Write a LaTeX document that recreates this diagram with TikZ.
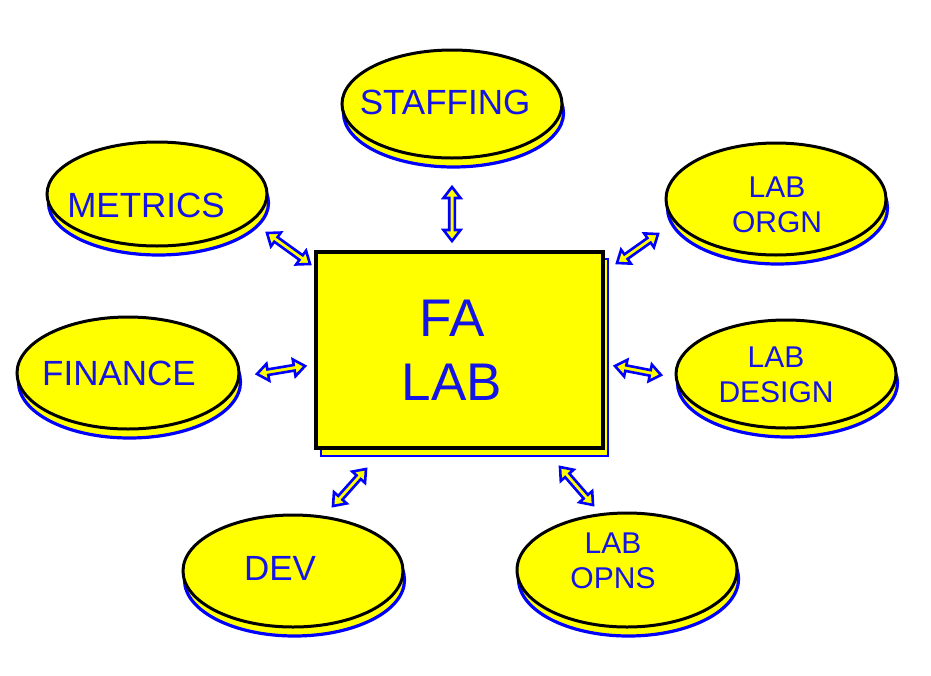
\documentclass[tikz,border=0pt]{standalone}
\usepackage{fontspec}
\setmainfont{Liberation Sans}
\usetikzlibrary{shapes.geometric,calc}
\definecolor{txtblue}{RGB}{20,20,230}
\definecolor{discyellow}{RGB}{255,255,0}
\tikzset{
  disc/.style={ellipse, fill=discyellow, draw=black, line width=3pt, inner sep=0pt},
  discshadow/.style={fill=discyellow, draw=blue, line width=3.2pt},
  lbl/.style={text=txtblue, align=center, inner sep=0pt},
  barrow/.style={fill=discyellow, draw=blue, line width=2.6pt, line join=miter},
}
\newcommand{\diskat}[5]{% name, x, y, rx, ry
  \draw[discshadow] (#2+1.5,#3+9) ellipse [x radius=#4pt, y radius=#5pt];
  \node[disc, minimum width=2*#4pt, minimum height=2*#5pt] (#1) at (#2,#3) {};
}
\newcommand{\blockarrow}[2]{%
  \path ($(#1)!11pt!(#2)$) coordinate (h1) ($(#2)!11pt!(#1)$) coordinate (h2);
  \draw[barrow] (#1) -- ($(h1)!8.5pt!90:(#2)$) -- ($(h1)!2.8pt!90:(#2)$)
    -- ($(h2)!2.8pt!-90:(#1)$) -- ($(h2)!8.5pt!-90:(#1)$) -- (#2)
    -- ($(h2)!8.5pt!90:(#1)$) -- ($(h2)!2.8pt!90:(#1)$)
    -- ($(h1)!2.8pt!-90:(#2)$) -- ($(h1)!8.5pt!-90:(#2)$) -- cycle;
}
\begin{document}
\begin{tikzpicture}[x=1pt,y=-1pt]
\useasboundingbox (0,0) rectangle (931,675);
% central box
\draw[fill=discyellow, draw=blue, line width=2.5pt] (321,259) rectangle (608,456);
\node[draw=black, fill=discyellow, line width=3.2pt, minimum width=287pt, minimum height=196pt, inner sep=0pt] (lab) at (459.5,350) {};
\node[lbl, font=\fontsize{53}{64}\selectfont] (labt) at (452,350) {FA\\LAB};
% discs
\diskat{staff}{452}{104}{110}{54}
\diskat{metrics}{157}{194}{110}{52}
\diskat{orgn}{776}{199}{110}{56}
\diskat{design}{786}{374}{110}{54}
\diskat{finance}{128}{373}{111}{56}
\diskat{dev}{293}{571}{110}{56}
\diskat{opns}{627}{570}{110}{57}
% labels
\node[lbl, font=\fontsize{35}{40}\selectfont] (stafft) at (445,102) {STAFFING};
\node[lbl, font=\fontsize{35}{40}\selectfont] (metricst) at (146,205) {METRICS};
\node[lbl, font=\fontsize{35}{40}\selectfont] (financet) at (119,373) {FINANCE};
\node[lbl, font=\fontsize{35}{40}\selectfont] (devt) at (280,568) {DEV};
\node[lbl, font=\fontsize{30}{35}\selectfont] (orgnt) at (777,205) {LAB\\ORGN};
\node[lbl, font=\fontsize{30}{35}\selectfont] (designt) at (776,375) {LAB\\DESIGN};
\node[lbl, font=\fontsize{30}{35}\selectfont] (opnst) at (613,561) {LAB\\OPNS};
% arrow end points
\coordinate (sa1) at (452,187); \coordinate (sa2) at (452,241);
\coordinate (ma1) at (267,233); \coordinate (ma2) at (310,264);
\coordinate (fa1) at (257,374); \coordinate (fa2) at (305,366);
\coordinate (oa1) at (617,263); \coordinate (oa2) at (658,234);
\coordinate (da1) at (615,366); \coordinate (da2) at (661,375);
\coordinate (va1) at (366,469); \coordinate (va2) at (333,506);
\coordinate (pa1) at (560,467); \coordinate (pa2) at (593,505);
\blockarrow{sa1}{sa2}
\blockarrow{ma1}{ma2}
\blockarrow{fa1}{fa2}
\blockarrow{oa1}{oa2}
\blockarrow{da1}{da2}
\blockarrow{va1}{va2}
\blockarrow{pa1}{pa2}
\end{tikzpicture}
\end{document}
